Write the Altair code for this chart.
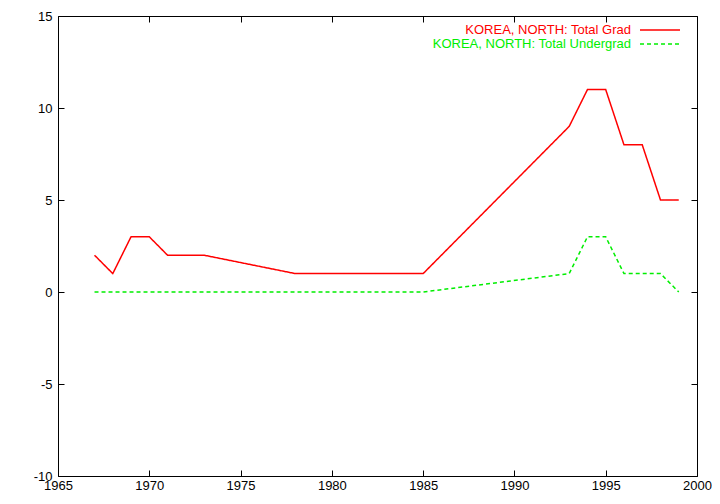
import altair as alt
import pandas as pd

years = [1967, 1968, 1969, 1970, 1971, 1973, 1978, 1985, 1993, 1994, 1995, 1996, 1997, 1998, 1999]
grad = [2, 1, 3, 3, 2, 2, 1, 1, 9, 11, 11, 8, 8, 5, 5]
undergrad = [0, 0, 0, 0, 0, 0, 0, 0, 1, 3, 3, 1, 1, 1, 0]
names = ["KOREA, NORTH: Total Grad", "KOREA, NORTH: Total Undergrad"]
colors = ["#ff0000", "#00ee00"]
x_ticks = [1965, 1970, 1975, 1980, 1985, 1990, 1995, 2000]
y_ticks = [-10, -5, 0, 5, 10, 15]

df = pd.DataFrame({
    "year": years * 2,
    "value": grad + undergrad,
    "series": [names[0]] * len(years) + [names[1]] * len(years),
})

W, H = 639, 460
xscale = alt.Scale(domain=[1965, 2000], nice=False, zero=False)
yscale = alt.Scale(domain=[-10, 15], nice=False, zero=False)

common_axis = dict(domain=False, grid=False, tickSize=6, offset=-6, tickColor="#000",
                   labelColor="#000", labelFont="Liberation Sans", labelFontSize=13,
                   title=None, tickWidth=1, labelFlush=False, labelOverlap=False,
                   labelExpr="'' + datum.value")

lines = alt.Chart(df).mark_line(strokeWidth=1.5).encode(
    x=alt.X("year:Q", scale=xscale,
            axis=alt.Axis(orient="bottom", values=x_ticks, labelPadding=3, **common_axis)),
    y=alt.Y("value:Q", scale=yscale,
            axis=alt.Axis(orient="left", values=y_ticks, labelPadding=6, **common_axis)),
    color=alt.Color("series:N", scale=alt.Scale(domain=names, range=colors), legend=None),
    strokeDash=alt.StrokeDash("series:N", scale=alt.Scale(domain=names, range=[[1, 0], [4, 3]]), legend=None),
)

mirror = alt.Chart(df).mark_line(opacity=0).encode(
    x=alt.X("year:Q", scale=xscale,
            axis=alt.Axis(orient="top", values=x_ticks, labels=False, **common_axis)),
    y=alt.Y("value:Q", scale=yscale,
            axis=alt.Axis(orient="right", values=y_ticks, labels=False, **common_axis)),
)

leg = []
for i, (n, c) in enumerate(zip(names, colors)):
    ldf = pd.DataFrame({"label": [n]})
    yy = 14 + 14 * i
    leg.append(alt.Chart(ldf).mark_text(align="right", baseline="middle", font="Liberation Sans",
                                        fontSize=13, color=c).encode(
        text="label:N", x=alt.value(573), y=alt.value(yy)))
    leg.append(alt.Chart(ldf).mark_rule(color=c, strokeWidth=1.5,
                                        strokeDash=[1, 0] if i == 0 else [4, 3]).encode(
        x=alt.value(582), x2=alt.value(622), y=alt.value(yy)))

chart = alt.layer(lines, mirror, *leg).resolve_axis(x="independent", y="independent").properties(
    width=W, height=H, autosize=alt.AutoSizeParams(type="none"),
    padding={"left": 50, "top": 8, "right": 15, "bottom": 20},
    background="#ffffff",
).configure_view(stroke="#000", strokeWidth=1)

chart.save("out.html", embed_options={"renderer": "svg", "actions": False})
